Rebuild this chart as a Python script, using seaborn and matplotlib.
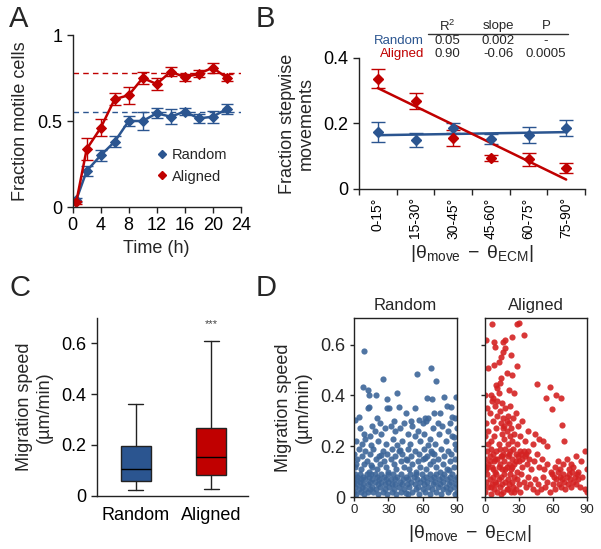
import numpy as np
import matplotlib
matplotlib.use("Agg")
import matplotlib.pyplot as plt
from matplotlib.lines import Line2D
import seaborn as sns

# ---- data ----
time_h = [0.5, 2, 4, 6, 8, 10, 12, 14, 16, 18, 20, 22]
motile_random = [0.04, 0.21, 0.30, 0.38, 0.50, 0.50, 0.545, 0.525, 0.555, 0.515, 0.525, 0.57]
motile_random_err = [0.01, 0.03, 0.03, 0.03, 0.03, 0.05, 0.03, 0.045, 0.02, 0.025, 0.035, 0.03]
motile_aligned = [0.027, 0.337, 0.46, 0.627, 0.65, 0.75, 0.715, 0.787, 0.755, 0.774, 0.81, 0.752]
motile_aligned_err = [0.01, 0.065, 0.05, 0.035, 0.05, 0.035, 0.035, 0.025, 0.02, 0.02, 0.03, 0.02]
plateau_random = 0.55
plateau_aligned = 0.78

angle_bins = ["0-15°", "15-30°", "30-45°", "45-60°", "60-75°", "75-90°"]
step_random = [0.175, 0.15, 0.186, 0.152, 0.165, 0.186]
step_random_err = [0.03, 0.022, 0.015, 0.015, 0.025, 0.024]
step_aligned = [0.337, 0.269, 0.155, 0.094, 0.091, 0.065]
step_aligned_err = [0.03, 0.025, 0.025, 0.01, 0.02, 0.015]
table_rows = [("Random", "0.05", "0.002", "-"), ("Aligned", "0.90", "-0.06", "0.0005")]

# box stats (whislo, q1, med, q3, whishi)
box_random = [0.022, 0.057, 0.107, 0.197, 0.36]
box_aligned = [0.027, 0.082, 0.152, 0.268, 0.608]

random_points = [
    (9, 0.575), (8, 0.435), (12, 0.42), (13, 0.40), (19, 0.40), (25, 0.465), (29, 0.385),
    (38, 0.41), (55, 0.485), (67, 0.51), (72, 0.455), (64, 0.39), (68, 0.385), (79, 0.395),
    (89, 0.395), (1, 0.305), (4, 0.315), (13, 0.355), (12, 0.35), (29, 0.35), (31, 0.35),
    (39, 0.355), (53, 0.35), (81, 0.36), (85, 0.355), (86, 0.315), (88, 0.31), (75, 0.33),
    (62, 0.31), (65, 0.31), (57, 0.305), (45, 0.33), (20, 0.31), (35, 0.30), (50, 0.30),
    (70, 0.33),
    (2, 0.22), (5, 0.27), (7, 0.21), (9, 0.25), (10, 0.23), (14, 0.24), (16, 0.28), (18, 0.26),
    (21, 0.22), (23, 0.29), (24, 0.25), (27, 0.27), (28, 0.21), (32, 0.28), (34, 0.23),
    (36, 0.26), (40, 0.27), (42, 0.22), (44, 0.29), (47, 0.25), (49, 0.21), (51, 0.28),
    (53, 0.24), (56, 0.26), (58, 0.22), (60, 0.29), (61, 0.25), (63, 0.30), (66, 0.23),
    (69, 0.27), (71, 0.21), (73, 0.29), (74, 0.25), (77, 0.28), (80, 0.22), (82, 0.26),
    (84, 0.29), (86, 0.24), (88, 0.21), (90, 0.27), (15, 0.205), (38, 0.205), (65, 0.205),
    (87, 0.235),
    (0, 0.17), (1, 0.12), (3, 0.15), (4, 0.19), (6, 0.11), (7, 0.16), (9, 0.13), (10, 0.18),
    (11, 0.14), (13, 0.10), (14, 0.17), (16, 0.12), (17, 0.19), (19, 0.15), (20, 0.11),
    (22, 0.16), (23, 0.13), (25, 0.18), (26, 0.14), (28, 0.12), (29, 0.17), (30, 0.10),
    (32, 0.15), (33, 0.19), (35, 0.13), (36, 0.16), (37, 0.11), (39, 0.18), (41, 0.14),
    (42, 0.17), (44, 0.12), (45, 0.15), (47, 0.19), (48, 0.11), (50, 0.16), (51, 0.13),
    (53, 0.18), (54, 0.10), (56, 0.14), (57, 0.17), (58, 0.12), (60, 0.15), (61, 0.19),
    (63, 0.11), (64, 0.16), (66, 0.13), (67, 0.18), (69, 0.14), (70, 0.17), (72, 0.12),
    (73, 0.15), (75, 0.10), (76, 0.19), (78, 0.13), (79, 0.16), (81, 0.11), (82, 0.18),
    (84, 0.14), (85, 0.17), (87, 0.12), (88, 0.15), (89, 0.19), (2, 0.13), (24, 0.165),
    (46, 0.145), (68, 0.175), (83, 0.105), (15, 0.125), (40, 0.185), (62, 0.155),
    (0, 0.02), (0, 0.06), (1, 0.09), (1, 0.04), (2, 0.07), (2, 0.01), (3, 0.05), (3, 0.08),
    (4, 0.03), (5, 0.06), (5, 0.09), (6, 0.02), (6, 0.07), (7, 0.04), (8, 0.08), (8, 0.05),
    (9, 0.01), (10, 0.07), (10, 0.03), (11, 0.09), (12, 0.05), (12, 0.02), (13, 0.08),
    (14, 0.06), (14, 0.03), (15, 0.09), (16, 0.04), (16, 0.07), (17, 0.02), (18, 0.06),
    (18, 0.09), (19, 0.03), (20, 0.08), (21, 0.05), (21, 0.01), (22, 0.07), (23, 0.04),
    (24, 0.09), (24, 0.06), (25, 0.02), (26, 0.08), (27, 0.05), (27, 0.03), (28, 0.07),
    (29, 0.01), (30, 0.06), (30, 0.09), (31, 0.04), (32, 0.07), (33, 0.02), (33, 0.05),
    (34, 0.09), (35, 0.03), (36, 0.07), (36, 0.05), (37, 0.01), (38, 0.08), (39, 0.04),
    (40, 0.06), (41, 0.09), (41, 0.02), (42, 0.05), (43, 0.07), (44, 0.03), (45, 0.08),
    (46, 0.05), (47, 0.01), (47, 0.07), (48, 0.04), (49, 0.09), (50, 0.06), (51, 0.02),
    (52, 0.08), (53, 0.05), (54, 0.03), (54, 0.09), (55, 0.07), (56, 0.04), (57, 0.01),
    (58, 0.06), (59, 0.09), (60, 0.03), (60, 0.07), (61, 0.05), (62, 0.02), (63, 0.08),
    (64, 0.06), (65, 0.04), (66, 0.09), (66, 0.01), (67, 0.07), (68, 0.03), (69, 0.05),
    (70, 0.08), (71, 0.06), (72, 0.02), (72, 0.09), (73, 0.04), (74, 0.07), (75, 0.05),
    (76, 0.01), (77, 0.08), (78, 0.03), (78, 0.06), (79, 0.09), (80, 0.04), (81, 0.07),
    (82, 0.02), (83, 0.05), (84, 0.08), (84, 0.03), (85, 0.06), (86, 0.09), (87, 0.04),
    (88, 0.01), (88, 0.07), (89, 0.05), (90, 0.02), (90, 0.08), (45, 0.015),
]

aligned_points = [
    (6, 0.68), (28, 0.68), (30, 0.685), (34, 0.64), (1, 0.62), (8, 0.61), (9, 0.59),
    (16, 0.61), (18, 0.62), (24, 0.63), (18, 0.585), (16, 0.57), (14, 0.55), (23, 0.56),
    (12, 0.53), (8, 0.52), (3, 0.51), (19, 0.49), (24, 0.48), (28, 0.515), (46, 0.445),
    (57, 0.435), (54, 0.39), (63, 0.40), (67, 0.39), (59, 0.345), (68, 0.285), (0, 0.40),
    (10, 0.44), (11, 0.43), (13, 0.45), (5, 0.40), (7, 0.39), (12, 0.41), (21, 0.42),
    (14, 0.47), (26, 0.41),
    (1, 0.29), (2, 0.35), (3, 0.26), (4, 0.33), (5, 0.22), (6, 0.38), (7, 0.30), (8, 0.24),
    (9, 0.36), (10, 0.27), (11, 0.32), (12, 0.21), (13, 0.34), (14, 0.29), (15, 0.25),
    (15, 0.37), (16, 0.31), (17, 0.23), (17, 0.28), (18, 0.35), (19, 0.26), (20, 0.32),
    (20, 0.21), (21, 0.29), (22, 0.24), (22, 0.36), (23, 0.27), (24, 0.22), (25, 0.31),
    (26, 0.25), (27, 0.33), (28, 0.21), (29, 0.28), (31, 0.24), (33, 0.30), (35, 0.22),
    (38, 0.26), (42, 0.21), (48, 0.23), (51, 0.22), (55, 0.20), (70, 0.22), (44, 0.25),
    (3, 0.21), (0, 0.24), (11, 0.38), (16, 0.27), (19, 0.30),
    (0, 0.15), (1, 0.11), (2, 0.18), (3, 0.13), (4, 0.16), (5, 0.19), (6, 0.12), (7, 0.17),
    (8, 0.14), (9, 0.10), (10, 0.18), (11, 0.15), (12, 0.12), (13, 0.19), (14, 0.16),
    (15, 0.11), (16, 0.17), (17, 0.14), (18, 0.19), (19, 0.12), (20, 0.16), (21, 0.13),
    (22, 0.18), (23, 0.11), (24, 0.15), (25, 0.19), (26, 0.13), (27, 0.17), (28, 0.10),
    (29, 0.16), (30, 0.14), (31, 0.18), (32, 0.17), (33, 0.12), (34, 0.18), (35, 0.16),
    (36, 0.17), (37, 0.13), (38, 0.18), (39, 0.15), (41, 0.11), (43, 0.14), (46, 0.17),
    (48, 0.12), (50, 0.15), (52, 0.11), (55, 0.13), (58, 0.10), (62, 0.12), (64, 0.14),
    (66, 0.11), (69, 0.13), (72, 0.15), (74, 0.11), (76, 0.13), (78, 0.12), (80, 0.16),
    (82, 0.10), (85, 0.14), (88, 0.18), (90, 0.11), (4, 0.14), (9, 0.15), (13, 0.13),
    (18, 0.11), (24, 0.12), (7, 0.11), (2, 0.12), (15, 0.16), (21, 0.17), (27, 0.14),
    (33, 0.15),
    (0, 0.02), (1, 0.06), (2, 0.09), (3, 0.04), (4, 0.07), (5, 0.01), (6, 0.05), (7, 0.08),
    (8, 0.03), (9, 0.06), (10, 0.09), (11, 0.02), (12, 0.07), (13, 0.04), (14, 0.08),
    (15, 0.05), (16, 0.02), (17, 0.09), (18, 0.06), (19, 0.03), (20, 0.07), (21, 0.05),
    (22, 0.09), (23, 0.02), (24, 0.06), (25, 0.04), (26, 0.08), (27, 0.03), (28, 0.07),
    (30, 0.05), (31, 0.02), (32, 0.09), (34, 0.06), (36, 0.04), (38, 0.08), (40, 0.05),
    (42, 0.03), (44, 0.07), (46, 0.02), (47, 0.05), (49, 0.03), (51, 0.08), (53, 0.04),
    (55, 0.06), (57, 0.02), (59, 0.09), (60, 0.05), (61, 0.08), (62, 0.03), (63, 0.07),
    (64, 0.10), (65, 0.05), (66, 0.08), (67, 0.04), (68, 0.07), (69, 0.09), (70, 0.06),
    (71, 0.03), (72, 0.08), (73, 0.05), (74, 0.09), (75, 0.07), (76, 0.04), (77, 0.10),
    (78, 0.06), (79, 0.08), (80, 0.05), (81, 0.09), (82, 0.07), (84, 0.04), (86, 0.08),
    (88, 0.03), (90, 0.02), (14, 0.01), (20, 0.03), (5, 0.04), (10, 0.05), (26, 0.02),
]

BLUE = "#2B5590"
RED = "#C00000"
BLUE_DOT = "#3D6699"
RED_DOT = "#D42222"

sns.set_theme(style="ticks")
plt.rcParams["font.family"] = ["Liberation Sans", "DejaVu Sans"]
plt.rcParams["mathtext.fontset"] = "custom"
plt.rcParams["mathtext.rm"] = "Liberation Sans"
plt.rcParams["mathtext.it"] = "Liberation Sans:italic"
plt.rcParams["axes.linewidth"] = 1.0
plt.rcParams["xtick.major.width"] = 1.0
plt.rcParams["ytick.major.width"] = 1.0
plt.rcParams["xtick.major.size"] = 4
plt.rcParams["ytick.major.size"] = 4

W, H = 601, 549
fig = plt.figure(figsize=(W / 100, H / 100), dpi=100)


def px_axes(left, top, right, bottom):
    return fig.add_axes([left / W, 1 - bottom / H, (right - left) / W, (bottom - top) / H])


def style_open(ax):
    sns.despine(ax=ax)
    for s in ("left", "bottom"):
        ax.spines[s].set_color("#222222")
    ax.tick_params(colors="#222222", labelcolor="black")


# ---- A ----
axA = px_axes(72.7, 35, 240.7, 207)
axA.axhline(plateau_aligned, color=RED, ls="--", lw=1.0, dashes=(4, 3))
axA.axhline(plateau_random, color=BLUE, ls="--", lw=1.0, dashes=(4, 3))
for y, e, c in [(motile_random, motile_random_err, BLUE), (motile_aligned, motile_aligned_err, RED)]:
    sns.lineplot(x=time_h, y=y, ax=axA, color=c, lw=1.8, marker="D", markersize=5,
                 markeredgecolor=c, errorbar=None)
    axA.errorbar(time_h, y, yerr=e, fmt="none", ecolor=c, elinewidth=1.0, capsize=4.5, capthick=1.0)
axA.set_xlim(0, 24)
axA.set_ylim(0, 1)
axA.set_xticks(range(0, 25, 4))
axA.set_yticks([0, 0.5, 1])
axA.set_yticklabels(["0", "0.5", "1"])
axA.tick_params(labelsize=13)
axA.set_xlabel("Time (h)", fontsize=13, labelpad=4)
axA.set_ylabel("Fraction motile cells", fontsize=13, labelpad=6)
style_open(axA)
handles = [Line2D([], [], ls="none", marker="D", color=BLUE, markersize=4.5),
           Line2D([], [], ls="none", marker="D", color=RED, markersize=4.5)]
axA.legend(handles, ["Random", "Aligned"], frameon=False, fontsize=10.5, loc="lower right",
           bbox_to_anchor=(1.0, 0.06), handletextpad=0.1, handlelength=1.2, labelspacing=0.5)

# ---- B ----
axB = px_axes(359, 58, 585, 189)
pos = np.arange(len(angle_bins))
for y, e, c in [(step_random, step_random_err, BLUE), (step_aligned, step_aligned_err, RED)]:
    sns.regplot(x=pos, y=np.array(y), ax=axB, ci=None, scatter=False, truncate=True,
                line_kws={"color": c, "lw": 1.8})
    axB.errorbar(pos, y, yerr=e, fmt="D", color=c, markersize=5.5, elinewidth=1.0,
                 capsize=5, capthick=1.0)
axB.set_xlim(-0.5, 5.5)
axB.set_ylim(0, 0.4)
axB.set_yticks([0, 0.2, 0.4])
axB.set_yticklabels(["0", "0.2", "0.4"])
axB.set_xticks(pos)
axB.set_xticklabels(angle_bins, rotation=90, fontsize=10)
axB.set_xticks(np.arange(-0.5, 6, 1), minor=True)
axB.tick_params(axis="x", which="major", length=0, pad=6)
axB.tick_params(axis="x", which="minor", length=4, width=1.0)
axB.tick_params(axis="y", labelsize=13)
axB.set_xlabel(r"$|\mathrm{θ_{move}}\;-\;\mathrm{θ_{ECM}}|$", fontsize=14, labelpad=3)
axB.set_ylabel("Fraction stepwise\nmovements", fontsize=13, labelpad=6)
style_open(axB)

# table above B
col_x = [447, 498, 546]
for xp, t in zip(col_x, ["R$^2$", "slope", "P"]):
    fig.text(xp / W, 1 - 26 / H, t, ha="center", va="center", fontsize=9.5)
fig.add_artist(Line2D([428 / W, 568 / W], [1 - 34 / H, 1 - 34 / H], color="#333333", lw=1.0))
for (name, r2, sl, p), yp, c in zip(table_rows, [41, 54], [BLUE, RED]):
    fig.text(424 / W, 1 - yp / H, name, ha="right", va="center", fontsize=9.5, color=c)
    for xp, t in zip(col_x, [r2, sl, p]):
        fig.text(xp / W, 1 - yp / H, t, ha="center", va="center", fontsize=9.5)

# ---- C ----
axC = px_axes(96.7, 318, 248, 495.7)
stats = []
for name, b in [("Random", box_random), ("Aligned", box_aligned)]:
    stats.append({"label": name, "whislo": b[0], "q1": b[1], "med": b[2], "q3": b[3], "whishi": b[4]})
bp = axC.bxp(stats, positions=[1, 2], widths=0.4, showfliers=False, patch_artist=True,
             boxprops={"linewidth": 1.0, "edgecolor": "#222222"},
             medianprops={"color": "black", "linewidth": 1.0},
             whiskerprops={"color": "#222222", "linewidth": 1.0},
             capprops={"color": "#222222", "linewidth": 1.0})
for patch, c in zip(bp["boxes"], [BLUE, RED]):
    patch.set_facecolor(c)
for cap in bp["caps"]:
    m = np.mean(cap.get_xdata())
    cap.set_xdata([m - 0.1, m + 0.1])
axC.text(2, 0.676, "***", ha="center", va="center", fontsize=8, color="#444444")
axC.set_xlim(0.48, 2.49)
axC.set_ylim(0, 0.7)
axC.set_yticks([0, 0.2, 0.4, 0.6])
axC.set_yticklabels(["0", "0.2", "0.4", "0.6"])
axC.tick_params(axis="x", length=0, pad=8)
axC.tick_params(labelsize=13)
axC.set_ylabel("Migration speed\n(µm/min)", fontsize=13, labelpad=6)
style_open(axC)

# ---- D ----
axD1 = px_axes(354, 318, 457, 497)
axD2 = px_axes(485, 318, 587, 497)
for ax, pts, c, title in [(axD1, random_points, BLUE_DOT, "Random"), (axD2, aligned_points, RED_DOT, "Aligned")]:
    xs = [p[0] for p in pts]
    ys = [p[1] for p in pts]
    sns.scatterplot(x=xs, y=ys, ax=ax, color=c, s=20, linewidth=0, alpha=0.9)
    ax.set_xlim(0, 90)
    ax.set_ylim(0, 0.705)
    ax.set_xticks([0, 30, 60, 90])
    ax.set_yticks([0, 0.2, 0.4, 0.6])
    ax.set_title(title, fontsize=12, pad=6)
    ax.tick_params(axis="x", labelsize=9.5, length=3, pad=2)
    ax.tick_params(axis="y", labelsize=13, length=3)
    for s in ax.spines.values():
        s.set_color("#222222")
        s.set_linewidth(1.0)
axD1.set_yticklabels(["0", "0.2", "0.4", "0.6"])
axD2.set_yticklabels([])
axD1.set_ylabel("Migration speed\n(µm/min)", fontsize=13, labelpad=6)
fig.text(470 / W, 1 - 533 / H, r"$|\mathrm{θ_{move}}\;-\;\mathrm{θ_{ECM}}|$", ha="center",
         va="center", fontsize=14)

# panel letters
for letter, xp, yp in [("A", 19, 19), ("B", 265, 19), ("C", 20, 288), ("D", 266, 288)]:
    fig.text(xp / W, 1 - yp / H, letter, ha="center", va="center", fontsize=21)

fig.savefig("out.png", dpi=100)
